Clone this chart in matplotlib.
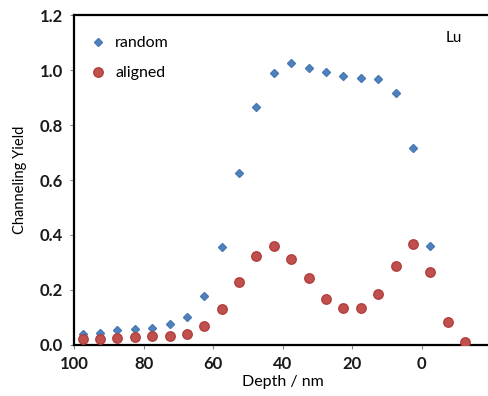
import matplotlib
matplotlib.use("Agg")
import matplotlib.pyplot as plt

plt.rcParams['font.family'] = ['Lato', 'DejaVu Sans']

depth_random = [97.5, 92.5, 87.5, 82.5, 77.5, 72.5, 67.5, 62.5, 57.5, 52.5,
                47.5, 42.5, 37.5, 32.5, 27.5, 22.5, 17.5, 12.5, 7.5, 2.5,
                -2.5, -7.5]
yield_random = [0.040, 0.042, 0.055, 0.057, 0.063, 0.078, 0.102, 0.178, 0.356, 0.625,
                0.865, 0.990, 1.027, 1.006, 0.993, 0.978, 0.972, 0.968, 0.915, 0.716,
                0.361, 0.088]

depth_aligned = [97.5, 92.5, 87.5, 82.5, 77.5, 72.5, 67.5, 62.5, 57.5, 52.5,
                 47.5, 42.5, 37.5, 32.5, 27.5, 22.5, 17.5, 12.5, 7.5, 2.5,
                 -2.5, -7.5, -12.5]
yield_aligned = [0.022, 0.023, 0.027, 0.029, 0.031, 0.033, 0.040, 0.068, 0.130, 0.229,
                 0.324, 0.360, 0.313, 0.242, 0.168, 0.133, 0.133, 0.187, 0.287, 0.366,
                 0.267, 0.085, 0.012]

x_ticks = [100, 80, 60, 40, 20, 0]
y_ticks = [0.0, 0.2, 0.4, 0.6, 0.8, 1.0, 1.2]

fig = plt.figure(figsize=(4.89, 3.96), dpi=100)
ax = fig.add_axes([0.1513, 0.1288, 0.853, 0.8333])

ax.plot(depth_random, yield_random, linestyle='none', marker='D', markersize=4.5,
        color='#4F81BD', markeredgecolor='#4A7AB5', label='random', zorder=2)
ax.plot(depth_aligned, yield_aligned, linestyle='none', marker='o', markersize=6.8,
        color='#C0504D', markeredgecolor='#B0403D', label='aligned', zorder=3)

ax.set_xlim(100, -20)
ax.set_ylim(0, 1.2)
ax.set_xticks(x_ticks)
ax.set_yticks(y_ticks)
ax.set_xticklabels([str(t) for t in x_ticks], fontweight='bold')
ax.set_yticklabels([f"{t:.1f}" for t in y_ticks], fontweight='bold')
ax.tick_params(axis='both', direction='out', length=3, width=0.8, color='#888888',
               labelsize=12, labelcolor='#1a1a1a', pad=5)

for side in ('left', 'bottom', 'top'):
    ax.spines[side].set_linewidth(1.6)
    ax.spines[side].set_color('black')
ax.spines['right'].set_visible(False)

ax.set_xlabel('Depth / nm', fontsize=11.5, labelpad=2)
ax.set_ylabel('Channeling Yield', fontsize=10.5, labelpad=9)

ax.legend(loc='upper left', frameon=False, fontsize=11.5, handletextpad=0.5,
          borderaxespad=0.4, labelspacing=1.0, handlelength=1.2,
          bbox_to_anchor=(0.003, 0.975))
ax.text(-9.3, 1.116, 'Lu', fontsize=11, ha='center', va='center')

fig.savefig('out.png', dpi=100)
